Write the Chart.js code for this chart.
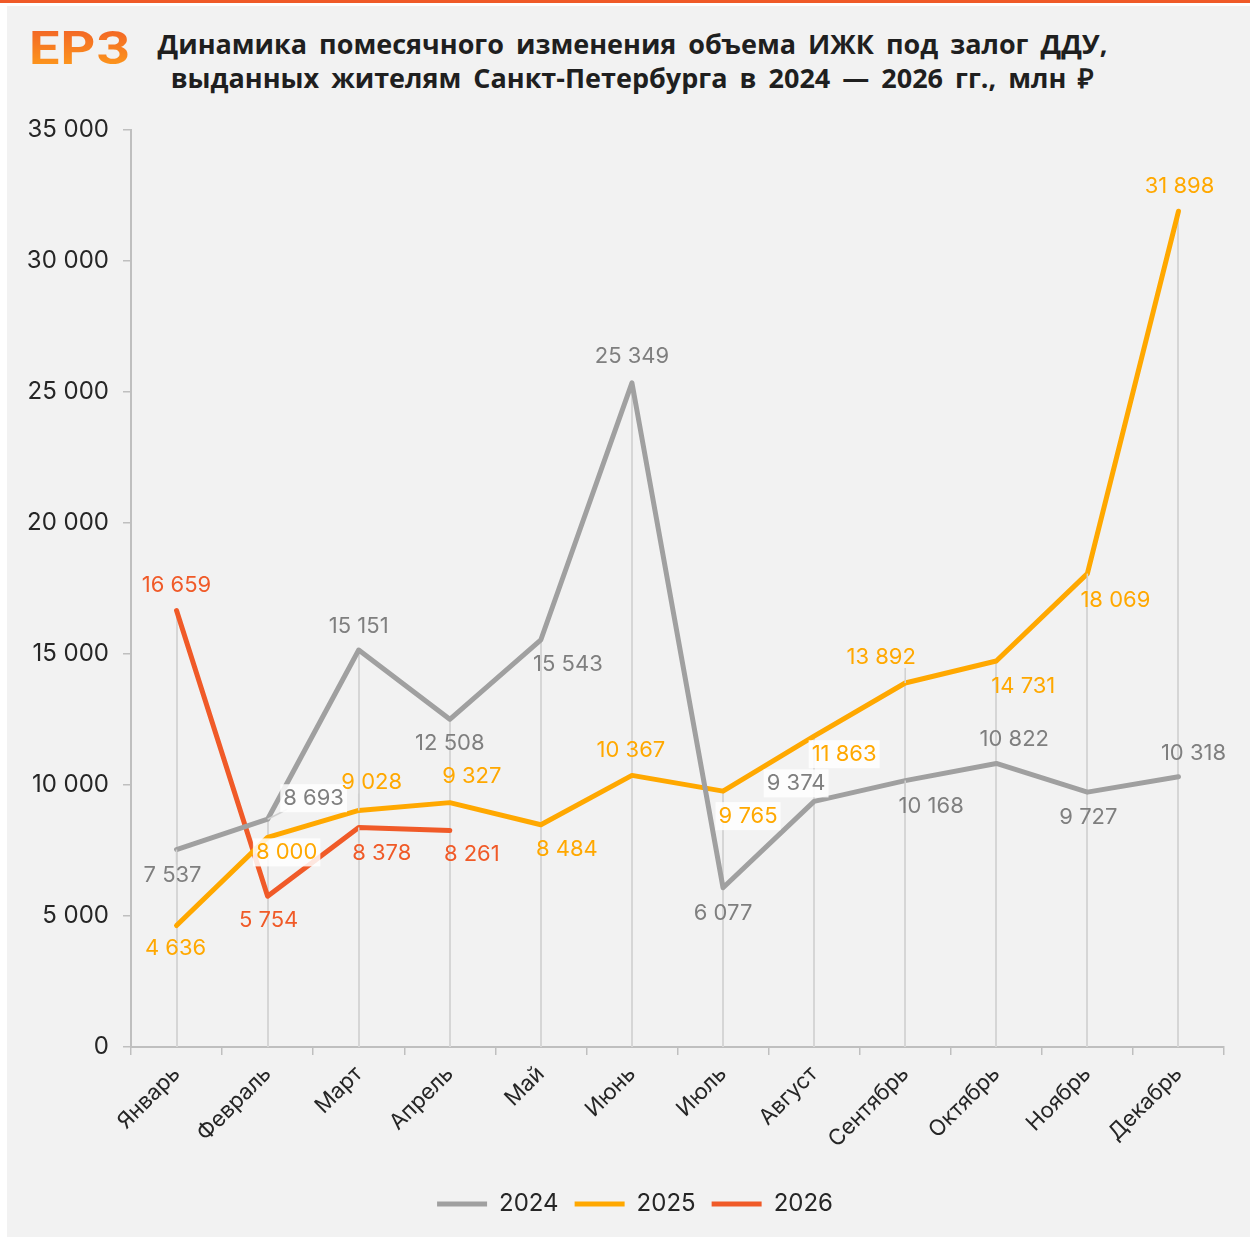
<!DOCTYPE html>
<html lang="ru">
<head>
<meta charset="utf-8">
<title>ИЖК под залог ДДУ, Санкт-Петербург</title>
<script src="https://cdn.jsdelivr.net/npm/chart.js@4.4.1/dist/chart.umd.min.js"></script>
<style>
    body { margin: 0; background: #ffffff; }
    #wrap { position: relative; width: 1250px; height: 1237px; overflow: hidden; background: #ffffff; }
    #topBar { position: absolute; left: 0; top: 0; width: 1250px; height: 3px; background: #f05a28; }
    #panel { position: absolute; left: 7px; top: 6px; width: 1243px; height: 1231px; background: #f2f2f2; }
    #logo {
        position: absolute; left: 29px; top: 20px;
        font: bold 47px Roboto, sans-serif; letter-spacing: 1px;
        background: linear-gradient(#f05a28, #ffa21a);
        -webkit-background-clip: text; background-clip: text; color: transparent;
        transform: scaleX(1.15); transform-origin: left top;
    }
    #title {
        position: absolute; left: 140px; width: 985px; top: 27px;
        font: bold 27px "Open Sans", sans-serif; line-height: 34px; color: #1f1f1f;
        text-align: center; word-spacing: 5px;
    }
    #chart { position: absolute; left: 0; top: 0; }
</style>
</head>
<body>
<div id="wrap">
    <div id="topBar"></div>
    <div id="panel"></div>
    <div id="logo">ЕРЗ</div>
    <div id="title">Динамика помесячного изменения объема ИЖК под залог ДДУ,<br>выданных жителям Санкт-Петербурга в 2024 — 2026 гг., млн ₽</div>
    <canvas id="chart" width="1250" height="1237"></canvas>
</div>
<script>
var months = ['Январь', 'Февраль', 'Март', 'Апрель', 'Май', 'Июнь', 'Июль', 'Август', 'Сентябрь', 'Октябрь', 'Ноябрь', 'Декабрь'];
var seriesNames = ['2024', '2025', '2026'];
var values2024 = [7537, 8693, 15151, 12508, 15543, 25349, 6077, 9374, 10168, 10822, 9727, 10318];
var values2025 = [4636, 8000, 9028, 9327, 8484, 10367, 9765, 11863, 13892, 14731, 18069, 31898];
var values2026 = [16659, 5754, 8378, 8261, null, null, null, null, null, null, null, null];
var yTicks = [0, 5000, 10000, 15000, 20000, 25000, 30000, 35000];

// label placement: [dx, dy, white box, leader line]
var labelPos = [
    [[-4, 26, 0, 1], [46, -21, 1, 1], [0, -24, 0, 0], [0, 24, 0, 0], [27, 25, 0, 0], [0, -26, 0, 0],
     [0, 26, 0, 0], [-18, -18, 1, 0], [26, 26, 0, 1], [18, -24, 0, 0], [1, 25, 0, 0], [15, -23, 0, 0]],
    [[-1, 23, 0, 0], [19, 15, 1, 0], [13, -28, 0, 1], [22, -26, 0, 0], [26, 25, 0, 0], [-1, -25, 0, 0],
     [25, 25, 1, 0], [30, 18, 1, 0], [-24, -26, 0, 1], [27, 25, 0, 0], [28, 27, 0, 1], [1, -25, 0, 0]],
    [[0, -25, 0, 0], [1, 24, 0, 0], [23, 26, 0, 1], [22, 24, 0, 0]]
];
var lineColors = ['#a0a0a0', '#ffa800', '#f05a28'];
var textColors = ['#7f7f7f', '#ffa800', '#f05a28'];

function fmt(v) {
    return String(v).replace(/\B(?=(\d{3})+(?!\d))/g, ' ');
}

// drop lines from the highest point of each month down to the axis
var dropLines = {
    id: 'dropLines',
    beforeDatasetsDraw: function (chart) {
        var ctx = chart.ctx, x = chart.scales.x, y = chart.scales.y;
        ctx.save();
        ctx.strokeStyle = '#d6d6d6';
        ctx.lineWidth = 2;
        for (var i = 0; i < months.length; i++) {
            var top = null;
            chart.data.datasets.forEach(function (ds) {
                var v = ds.data[i];
                if (v != null && (top == null || v > top)) top = v;
            });
            if (top == null) continue;
            var px = Math.round(x.getPixelForValue(i));
            ctx.beginPath();
            ctx.moveTo(px, y.getPixelForValue(top));
            ctx.lineTo(px, chart.chartArea.bottom);
            ctx.stroke();
        }
        ctx.restore();
    }
};

var valueLabels = {
    id: 'valueLabels',
    afterDatasetsDraw: function (chart) {
        var ctx = chart.ctx;
        ctx.save();
        ctx.font = '22px Inter, sans-serif';
        ctx.textAlign = 'center';
        ctx.textBaseline = 'middle';
        chart.data.datasets.forEach(function (ds, d) {
            var meta = chart.getDatasetMeta(d);
            meta.data.forEach(function (pt, i) {
                var v = ds.data[i];
                if (v == null) return;
                var p = labelPos[d][i];
                var lx = pt.x + p[0], ly = pt.y + p[1];
                var txt = fmt(v);
                var w = ctx.measureText(txt).width;
                if (p[3]) {
                    ctx.strokeStyle = '#d0d0d0';
                    ctx.lineWidth = 1.5;
                    ctx.beginPath();
                    ctx.moveTo(pt.x, pt.y);
                    var ex = lx - Math.sign(p[0]) * Math.min(Math.abs(p[0]), w / 2 - 4);
                    var ey = ly - Math.sign(p[1]) * 11;
                    ctx.lineTo(ex, ey);
                    ctx.stroke();
                }
                if (p[2]) {
                    ctx.fillStyle = 'rgba(255,255,255,0.85)';
                    ctx.fillRect(lx - w / 2 - 3, ly - 14, w + 6, 28);
                }
                ctx.fillStyle = textColors[d];
                ctx.fillText(txt, lx, ly);
            });
        });
        ctx.restore();
    }
};

// the legend in the original sits a bit right of the canvas centre
var legendShift = {
    id: 'legendShift',
    afterLayout: function (chart) {
        chart.legend.left += 23;
        chart.legend.right += 23;
    }
};

var datasetValues = [values2024, values2025, values2026];
var datasets = seriesNames.map(function (name, d) {
    return {
        label: name,
        data: datasetValues[d],
        borderColor: lineColors[d],
        backgroundColor: lineColors[d],
        borderWidth: 5,
        borderJoinStyle: 'round',
        borderCapStyle: 'round',
        pointRadius: 0,
        pointHoverRadius: 0,
        tension: 0,
        spanGaps: false
    };
});

new Chart(document.getElementById('chart'), {
    type: 'line',
    data: { labels: months, datasets: datasets },
    options: {
        responsive: false,
        animation: false,
        devicePixelRatio: 1,
        layout: { padding: { left: 0, top: 130, right: 26, bottom: 11 } },
        scales: {
            x: {
                offset: true,
                grid: { offset: true, drawOnChartArea: false, drawTicks: true, tickLength: 8, color: '#bfbfbf', lineWidth: 1.5 },
                border: { color: '#bfbfbf', width: 2 },
                ticks: {
                    color: '#262626', font: { family: 'Inter, sans-serif', size: 22 },
                    maxRotation: 45, minRotation: 45, padding: 6
                },
                afterFit: function (s) { s.height = 129; }
            },
            y: {
                min: 0, max: 35000,
                afterBuildTicks: function (s) { s.ticks = yTicks.map(function (v) { return { value: v }; }); },
                grid: { drawOnChartArea: false, drawTicks: true, tickLength: 8, color: '#bfbfbf', lineWidth: 1.5 },
                border: { color: '#bfbfbf', width: 2 },
                ticks: {
                    color: '#262626', font: { family: 'Inter, sans-serif', size: 24 }, padding: 14,
                    callback: function (v) { return fmt(v); }
                },
                afterFit: function (s) { s.width = 131; }
            }
        },
        plugins: {
            legend: {
                position: 'bottom',
                labels: {
                    color: '#262626',
                    font: { family: 'Inter, sans-serif', size: 24 },
                    usePointStyle: true,
                    pointStyle: 'line',
                    pointStyleWidth: 50,
                    boxHeight: 6,
                    padding: 16
                }
            },
            tooltip: { enabled: false }
        }
    },
    plugins: [dropLines, valueLabels, legendShift]
});
</script>
</body>
</html>
